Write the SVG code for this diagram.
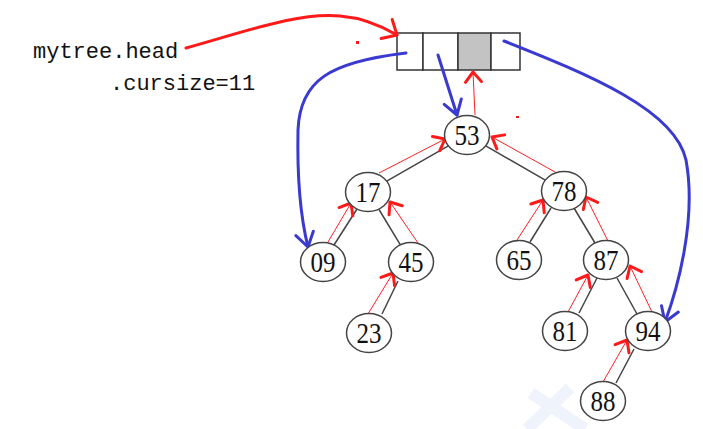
<svg xmlns="http://www.w3.org/2000/svg" width="703" height="429" viewBox="0 0 703 429">
<style>
.lbl{font-family:"Liberation Mono","DejaVu Sans Mono",monospace;font-size:22px;fill:#111}
.nd ellipse{fill:#fff;stroke:#444;stroke-width:1.5}
.nd text{font-family:"Liberation Serif","DejaVu Serif",serif;font-size:29px;fill:#111;text-anchor:middle}
.blk{stroke:#444;stroke-width:1.5;fill:none}
.red{stroke:#ff2020;stroke-width:1;fill:none;marker-end:url(#ra)}
.cell{fill:#fff;stroke:#333;stroke-width:1.5}
.blue{stroke:#3a3ad0;stroke-width:3;fill:none;marker-end:url(#ba);stroke-linecap:round}
.wm{stroke:#eff3fb;stroke-width:12;fill:none}
</style>
<defs>
<marker id="ra" markerUnits="userSpaceOnUse" markerWidth="30" markerHeight="30" refX="0" refY="0" viewBox="-15 -15 30 30" orient="auto" overflow="visible">
<path d="M-10,-8 L0,0 L-10,8" fill="none" stroke="#ff1a1a" stroke-width="3" stroke-linecap="round" stroke-linejoin="round"/>
</marker>
<marker id="rb" markerUnits="userSpaceOnUse" markerWidth="40" markerHeight="40" refX="0" refY="0" viewBox="-20 -20 40 40" orient="auto" overflow="visible">
<path d="M-12,-11 L0,0 L-12,11" fill="none" stroke="#ff1a1a" stroke-width="3" stroke-linecap="round" stroke-linejoin="round"/>
</marker>
<marker id="ba" markerUnits="userSpaceOnUse" markerWidth="40" markerHeight="40" refX="0" refY="0" viewBox="-20 -20 40 40" orient="auto" overflow="visible">
<path d="M-14,-9 L0,0 L-14,9" fill="none" stroke="#3a3ad0" stroke-width="3" stroke-linecap="round" stroke-linejoin="round"/>
</marker>
</defs>
<rect width="703" height="429" fill="#fff"/>
<g id="watermark">
<path class="wm" d="M570,388 L527,429 M531,393 L585,429"/>
</g>
<g id="labels">
<text class="lbl" x="33" y="58">mytree.head</text>
<text class="lbl" x="110" y="90">.cursize=11</text>
</g>
<g id="array">
<rect class="cell" x="397" y="33" width="26" height="37"/>
<rect class="cell" x="423" y="33" width="35" height="37"/>
<rect class="cell" x="458" y="33" width="33" height="37" style="fill:#c3c3c3"/>
<rect class="cell" x="491" y="33" width="29" height="37"/>
</g>
<g id="connectors">
<line class="blk" x1="386.7" y1="181.2" x2="448.3" y2="145.8"/>
<line class="blk" x1="545.3" y1="180.2" x2="485.7" y2="145.8"/>
<line class="blk" x1="334" y1="245" x2="357" y2="209"/>
<line class="blk" x1="400.4" y1="244.8" x2="379" y2="209.5"/>
<line class="blk" x1="382" y1="314" x2="398" y2="281"/>
<line class="blk" x1="530" y1="242" x2="551" y2="208"/>
<line class="blk" x1="574" y1="208" x2="595" y2="243"/>
<line class="blk" x1="579" y1="313" x2="597" y2="278"/>
<line class="blk" x1="617" y1="278" x2="637" y2="314"/>
<line class="blk" x1="616" y1="383" x2="634" y2="349"/>
<line class="red" x1="379" y1="173" x2="445" y2="139"/>
<line class="red" x1="555" y1="172" x2="492" y2="137"/>
<line class="red" x1="328" y1="242" x2="351" y2="203"/>
<line class="red" x1="418" y1="243" x2="390" y2="202"/>
<line class="red" x1="368" y1="314" x2="393" y2="273"/>
<line class="red" x1="517" y1="240" x2="543" y2="200"/>
<line class="red" x1="608" y1="241" x2="586" y2="197"/>
<line class="red" x1="568" y1="312" x2="588" y2="275"/>
<line class="red" x1="652" y1="312" x2="630" y2="266"/>
<line class="red" x1="603" y1="382" x2="627" y2="340"/>
<line class="red" x1="475" y1="115" x2="473" y2="72"/>
<path d="M186,48 C250,30 300,12 340,16 C365,18 385,28 397,35" fill="none" stroke="#ff1a1a" stroke-width="3" stroke-linecap="round" marker-end="url(#rb)"/>
<path class="blue" d="M406,53 C330,62 300,80 298,130 C297,180 300,215 308,247"/>
<path class="blue" d="M438,55 L457,115"/>
<path class="blue" d="M504,41 C590,75 675,110 686,160 C697,220 677,290 665,322"/>
<rect x="356" y="41" width="3" height="3" fill="#ff1a1a"/>
<rect x="516" y="116" width="3" height="2" fill="#ff1a1a"/>
</g>
<g id="n53" class="nd"><ellipse cx="467" cy="135" rx="22.5" ry="19.5"/><text x="467" y="145" textLength="25" lengthAdjust="spacingAndGlyphs">53</text></g>
<g id="n17" class="nd"><ellipse cx="368" cy="192" rx="22.5" ry="19.5"/><text x="368" y="202" textLength="25" lengthAdjust="spacingAndGlyphs">17</text></g>
<g id="n78" class="nd"><ellipse cx="564" cy="191" rx="22.5" ry="19.5"/><text x="564" y="201" textLength="25" lengthAdjust="spacingAndGlyphs">78</text></g>
<g id="n09" class="nd"><ellipse cx="323" cy="262" rx="22.5" ry="19.5"/><text x="323" y="272" textLength="25" lengthAdjust="spacingAndGlyphs">09</text></g>
<g id="n45" class="nd"><ellipse cx="411" cy="262" rx="22.5" ry="19.5"/><text x="411" y="272" textLength="25" lengthAdjust="spacingAndGlyphs">45</text></g>
<g id="n65" class="nd"><ellipse cx="519" cy="260" rx="22.5" ry="19.5"/><text x="519" y="270" textLength="25" lengthAdjust="spacingAndGlyphs">65</text></g>
<g id="n87" class="nd"><ellipse cx="606" cy="260" rx="22.5" ry="19.5"/><text x="606" y="270" textLength="25" lengthAdjust="spacingAndGlyphs">87</text></g>
<g id="n23" class="nd"><ellipse cx="369" cy="333" rx="22.5" ry="19.5"/><text x="369" y="343" textLength="25" lengthAdjust="spacingAndGlyphs">23</text></g>
<g id="n81" class="nd"><ellipse cx="565" cy="331" rx="22.5" ry="19.5"/><text x="565" y="341" textLength="25" lengthAdjust="spacingAndGlyphs">81</text></g>
<g id="n94" class="nd"><ellipse cx="648" cy="331" rx="22.5" ry="19.5"/><text x="648" y="341" textLength="25" lengthAdjust="spacingAndGlyphs">94</text></g>
<g id="n88" class="nd"><ellipse cx="603" cy="401" rx="22.5" ry="19.5"/><text x="603" y="411" textLength="25" lengthAdjust="spacingAndGlyphs">88</text></g>
</svg>
